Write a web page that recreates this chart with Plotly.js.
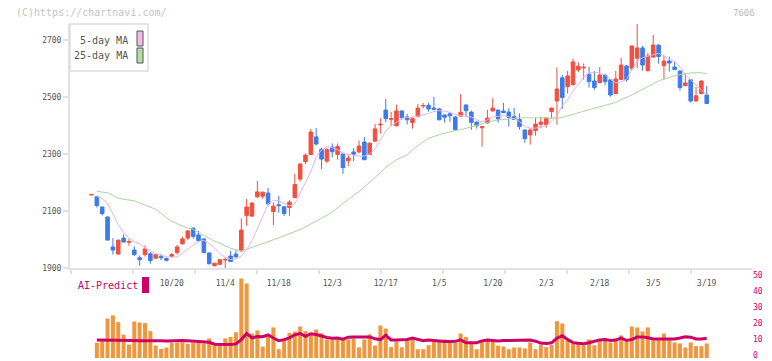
<!DOCTYPE html>
<html><head><meta charset="utf-8">
<script src="https://cdn.plot.ly/plotly-3.0.1.min.js"></script>
<style>html,body{margin:0;padding:0;background:#fff}#chart{width:772px;height:361px}</style>
</head><body><div id="chart"></div>
<script>
const dates = ['9/26','9/29','9/30',
'10/1','10/2','10/3','10/6','10/7','10/8','10/9','10/10','10/14','10/15','10/16','10/17','10/20','10/21','10/22','10/23','10/24','10/27','10/28','10/29','10/30','10/31',
'11/4','11/5','11/6','11/7','11/10','11/11','11/12','11/13','11/14','11/17','11/18','11/19','11/20','11/21','11/25','11/26','11/27','11/28',
'12/1','12/2','12/3','12/4','12/5','12/8','12/9','12/10','12/11','12/12','12/15','12/16','12/17','12/18','12/19','12/22','12/23','12/24','12/25','12/26','12/29','12/30',
'1/5','1/6','1/7','1/8','1/9','1/13','1/14','1/15','1/16','1/19','1/20','1/21','1/22','1/23','1/26','1/27','1/28','1/29','1/30',
'2/2','2/3','2/4','2/5','2/6','2/9','2/10','2/12','2/13','2/16','2/17','2/18','2/19','2/20','2/24','2/25','2/26','2/27',
'3/2','3/3','3/4','3/5','3/6','3/9','3/10','3/11','3/12','3/13','3/16','3/17','3/18','3/19'];

const openP = [2156,2150,2114,2079,1974,1949,2005,1990,1963,1936,1947,1950,1934,1941,1933,1941,1954,1985,2005,2040,
2016,2002,1953,1908,1913,1928,1942,1949,1960,2084,2082,2150,2152,2163,2098,2122,2115,2112,2147,2212,
2273,2298,2360,2317,2275,2324,2298,2300,2276,2307,2307,2342,2298,2345,2402,2454,2422,2399,2451,2430,
2410,2431,2468,2471,2461,2458,2437,2441,2430,2433,2472,2447,2412,2392,2409,2451,2454,2451,2447,2431,
2421,2384,2367,2382,2404,2403,2449,2486,2567,2536,2543,2595,2602,2580,2556,2550,2577,2560,2512,2561,
2609,2601,2636,2672,2592,2640,2682,2610,2626,2605,2591,2540,2560,2486,2512,2507];
const highP = [2158,2152,2115,2080,2005,1998,2018,2002,1976,1944,1979,1956,1947,1949,1937,1953,1981,2010,2033,2041,
2030,2004,1954,1917,1932,1937,1960,1962,2074,2142,2130,2206,2168,2181,2130,2153,2116,2138,2230,2267,
2302,2388,2391,2322,2321,2337,2337,2305,2296,2320,2347,2360,2340,2406,2426,2493,2448,2473,2452,2440,
2429,2475,2479,2479,2500,2461,2438,2448,2432,2510,2473,2452,2414,2399,2455,2496,2456,2479,2461,2461,
2442,2386,2392,2426,2431,2428,2463,2604,2577,2591,2635,2622,2618,2606,2591,2605,2579,2561,2591,2637,
2611,2681,2756,2679,2654,2718,2684,2644,2642,2624,2593,2583,2561,2536,2558,2539];
const lowP = [2156,2112,2084,1997,1947,1947,1991,1978,1942,1908,1940,1915,1934,1928,1923,1936,1947,1982,1998,2003,
1992,1952,1913,1905,1910,1898,1921,1936,1957,2048,2080,2145,2143,2120,2051,2094,2082,2082,2145,2203,
2264,2296,2330,2247,2268,2288,2280,2230,2257,2275,2302,2278,2296,2343,2371,2411,2399,2397,2420,2403,
2389,2429,2460,2448,2453,2418,2410,2413,2383,2430,2430,2385,2389,2326,2406,2449,2410,2443,2396,2419,
2385,2339,2333,2364,2390,2392,2424,2403,2458,2512,2540,2587,2561,2533,2525,2548,2541,2501,2510,2559,
2554,2595,2601,2592,2590,2638,2617,2561,2589,2594,2522,2537,2480,2484,2510,2475];
const closeP = [2158,2119,2091,1998,1963,1998,1991,1993,1947,1929,1967,1926,1947,1936,1927,1947,1974,2002,2030,2011,
1996,1954,1915,1917,1929,1930,1923,1939,2033,2114,2128,2167,2166,2125,2117,2119,2091,2131,2193,2265,
2296,2377,2335,2282,2316,2308,2326,2252,2286,2299,2328,2280,2338,2388,2404,2424,2424,2451,2427,2420,
2424,2461,2470,2458,2457,2420,2429,2434,2385,2446,2452,2411,2399,2396,2426,2461,2423,2445,2428,2421,
2396,2354,2384,2405,2412,2426,2461,2528,2498,2574,2623,2608,2604,2554,2533,2577,2554,2507,2563,2612,
2561,2679,2672,2612,2644,2682,2642,2626,2619,2596,2533,2549,2486,2504,2556,2477];

const ma5 = [null,2150,2144,2127,2092,2052,2025,2005,1992,1985,1970,1960,1950,1945,1940,1938,1940,1952,1967,1980,
1993,1997,1985,1970,1951,1937,1930,1932,1942,1965,1995,2035,2080,2125,2138,2136,2127,2118,2125,2165,
2200,2237,2290,2314,2326,2322,2315,2302,2298,2296,2293,2293,2300,2318,2350,2380,2398,2410,2425,2428,
2429,2433,2437,2442,2449,2452,2450,2446,2438,2434,2432,2430,2420,2413,2420,2430,2432,2434,2431,2422,
2414,2397,2390,2391,2393,2400,2415,2435,2470,2490,2520,2545,2570,2584,2587,2583,2578,2562,2550,2552,
2562,2595,2625,2638,2643,2650,2653,2645,2632,2624,2605,2578,2560,2542,2525,2507];
const ma25 = [null,2169,2167,2164,2155,2145,2141,2138,2136,2128,2121,2114,2106,2092,2076,2064,2055,2047,2041,2036,
2024,2013,2003,1994,1987,1978,1969,1964,1960,1966,1972,1978,1985,1992,1999,2006,2013,2020,2027,2035,
2044,2054,2064,2073,2085,2097,2112,2127,2142,2155,2168,2184,2200,2216,2234,2253,2268,2280,2288,2297,
2315,2330,2343,2355,2362,2368,2373,2378,2382,2385,2390,2396,2400,2405,2412,2416,2419,2421,2424,2426,
2427,2427,2427,2426,2425,2425,2425,2426,2428,2434,2440,2446,2450,2455,2460,2466,2471,2476,2481,2490,
2498,2507,2517,2527,2536,2546,2556,2563,2570,2575,2578,2582,2584,2585,2585,2582];

const volume = [null,9.5,10.5,24.7,26.6,22.4,14.6,8.4,22.8,22.2,21.8,16.8,7.8,5.7,6.5,9.5,9.5,9.7,8.9,9.5,
9.5,9.1,12.2,7.8,7.8,12.2,13.2,16.1,49.7,46.6,15.3,17.2,7.2,14.0,19.1,5.5,11.6,15.6,16.5,19.7,
16.8,14.8,17.8,15.5,11.6,11.6,11.6,11.6,11.6,12.2,6.6,11.6,14.8,7.8,20.3,18.4,6.8,10.3,6.7,11.2,
12.4,5.5,5.5,8.0,11.2,11.0,11.6,9.5,9.5,15.3,13.1,8.7,5.5,10.7,10.7,10.5,7.8,7.2,5.5,6.6,
6.6,6.0,9.7,5.5,8.4,6.8,8.2,23.0,21.6,11.0,8.9,8.9,8.0,11.6,8.0,11.0,11.6,9.7,12.0,14.1,
10.1,19.7,19.1,16.6,19.1,11.0,11.6,15.3,11.6,9.7,9.1,6.6,9.7,7.4,7.4,9.1];
const aiPredict = [null,11.3,11.3,11.3,11.3,11.2,11.0,10.9,10.9,10.8,10.9,10.9,11.0,10.8,10.6,10.8,11.1,11.0,10.8,10.6,
10.4,10.2,9.8,8.6,8.4,8.4,8.5,8.8,11.5,15.3,12.6,13.4,13.3,14.5,12.5,10.8,11.5,12.6,14.5,15.3,
13.6,15.2,14.7,13.6,12.8,12.3,12.5,11.8,13.0,13.2,13.2,13.2,13.2,12.0,11.5,14.3,11.3,11.3,11.3,11.6,
12.4,11.5,10.8,11.3,11.0,10.3,10.3,10.3,10.4,11.3,9.5,9.6,9.6,10.7,11.3,11.0,10.7,10.9,11.0,11.3,
11.3,11.3,11.3,10.5,9.3,9.1,9.5,12.4,13.9,11.6,9.6,9.2,8.9,9.5,10.3,11.3,11.6,11.0,11.2,12.4,
11.0,11.5,13.2,13.2,12.6,11.9,11.9,11.9,11.9,11.9,12.5,13.2,13.0,11.9,11.9,12.4];

const xLabels = ['10/20','11/4','11/18','12/3','12/17','1/5','1/20','2/3','2/18','3/5','3/19'];
const priceTicks = [1900,2100,2300,2500,2700];
const subTicks = [0,10,20,30,40,50];

const W = 772, H = 361;
const px = v => v / W;
const py = v => 1 - v / H;
const MONO = 'DejaVu Sans Mono, monospace';
const AXC = '#e2e2e2';
const xRange = [-4.02, 123.46];

const traces = [
  {type:'candlestick', x: dates, open: openP, high: highP, low: lowP, close: closeP,
   xaxis:'x', yaxis:'y', hoverinfo:'skip',
   increasing:{line:{color:'#F2503E', width:1}, fillcolor:'#F2503E'},
   decreasing:{line:{color:'#3D7BEA', width:1}, fillcolor:'#3D7BEA'}},
  {type:'scatter', mode:'lines', x: dates, y: ma5, xaxis:'x', yaxis:'y',
   line:{color:'#E8B2EA', width:1}, hoverinfo:'skip'},
  {type:'scatter', mode:'lines', x: dates, y: ma25, xaxis:'x', yaxis:'y',
   line:{color:'#ABD6A0', width:1}, hoverinfo:'skip'},
  {type:'bar', x: dates, y: volume, xaxis:'x2', yaxis:'y2',
   marker:{color:'#F0963C'}, hoverinfo:'skip'},
  {type:'scatter', mode:'lines', x: dates, y: aiPredict, xaxis:'x2', yaxis:'y2',
   line:{color:'#CC0066', width:3}, hoverinfo:'skip'},
  {type:'scatter', mode:'markers', x:[0], y:[1900], xaxis:'x3', yaxis:'y',
   marker:{opacity:0}, hoverinfo:'skip'}
];

const layout = {
  width: W, height: H,
  margin:{l:0, r:0, t:0, b:0},
  paper_bgcolor:'#ffffff', plot_bgcolor:'rgba(0,0,0,0)',
  showlegend:false, boxgap:0.05, bargap:0.25,
  font:{family:MONO, color:'#555'},
  xaxis:{domain:[px(70), px(752)], anchor:'y', type:'category', range:xRange,
    rangeslider:{visible:false}, showline:true, linecolor:AXC, linewidth:2,
    showgrid:false, zeroline:false, ticks:'', tickvals:xLabels, ticktext:xLabels,
    tickfont:{family:MONO, size:8, color:'#555'}, ticklabelstandoff:6, tickangle:0},
  xaxis3:{overlaying:'x', anchor:'y', type:'linear', range:xRange, side:'bottom',
    tick0:-3.89, dtick:11.59, ticks:'outside', ticklen:5, tickwidth:2, tickcolor:AXC,
    showticklabels:false, showgrid:false, zeroline:false, showline:false},
  yaxis:{domain:[py(268), py(24)], anchor:'x', range:[1900, 2756],
    showline:true, linecolor:AXC, linewidth:2, showgrid:false, zeroline:false,
    ticks:'outside', ticklen:5, tickwidth:2, tickcolor:AXC, tickvals:priceTicks,
    tickfont:{family:MONO, size:8, color:'#555'}},
  xaxis2:{domain:[px(70), px(752)], anchor:'y2', type:'category', matches:'x', range:xRange,
    visible:false},
  yaxis2:{domain:[py(358), py(278)], anchor:'x2', side:'right', range:[0, 50],
    showline:false, showgrid:false, zeroline:false, ticks:'', tickvals:subTicks,
    ticklabeloverflow:'allow', ticklabelshift:-3,
    tickfont:{family:MONO, size:8, color:'#CC0066'}},
  shapes:[
    {type:'rect', xref:'paper', yref:'paper', x0:px(70), x1:px(148), y0:py(71), y1:py(24),
     line:{color:'#dddddd', width:1.5}, fillcolor:'#ffffff', layer:'above'},
    {type:'rect', xref:'paper', yref:'paper', x0:px(137), x1:px(143), y0:py(46), y1:py(31),
     line:{color:'#555', width:1}, fillcolor:'#F0BCEE', layer:'above'},
    {type:'rect', xref:'paper', yref:'paper', x0:px(137), x1:px(143), y0:py(63), y1:py(48),
     line:{color:'#555', width:1}, fillcolor:'#B7DDAA', layer:'above'},
    {type:'rect', xref:'paper', yref:'paper', x0:px(142), x1:px(149), y0:py(293), y1:py(277),
     line:{width:0}, fillcolor:'#CC0066'}
  ],
  annotations:[
    {xref:'paper', yref:'paper', x:px(14), y:py(12.5), xanchor:'left', yanchor:'middle', showarrow:false,
     text:'(C)https://chartnavi.com/', font:{family:MONO, size:10, color:'#c4c4c4'}},
    {xref:'paper', yref:'paper', x:px(757), y:py(12.5), xanchor:'right', yanchor:'middle', showarrow:false,
     text:'7606', font:{family:MONO, size:9, color:'#bbbbbb'}},
    {xref:'paper', yref:'paper', x:px(130), y:py(40), xanchor:'right', yanchor:'middle', showarrow:false,
     text:'5-day MA', font:{family:MONO, size:10, color:'#555'}},
    {xref:'paper', yref:'paper', x:px(130), y:py(56), xanchor:'right', yanchor:'middle', showarrow:false,
     text:'25-day MA', font:{family:MONO, size:10, color:'#555'}},
    {xref:'paper', yref:'paper', x:px(76), y:py(285), xanchor:'left', yanchor:'middle', showarrow:false,
     text:'AI-Predict', font:{family:MONO, size:10, color:'#CC0066'}}
  ]
};

Plotly.newPlot('chart', traces, layout, {staticPlot:true, displayModeBar:false});
</script>
</body></html>
